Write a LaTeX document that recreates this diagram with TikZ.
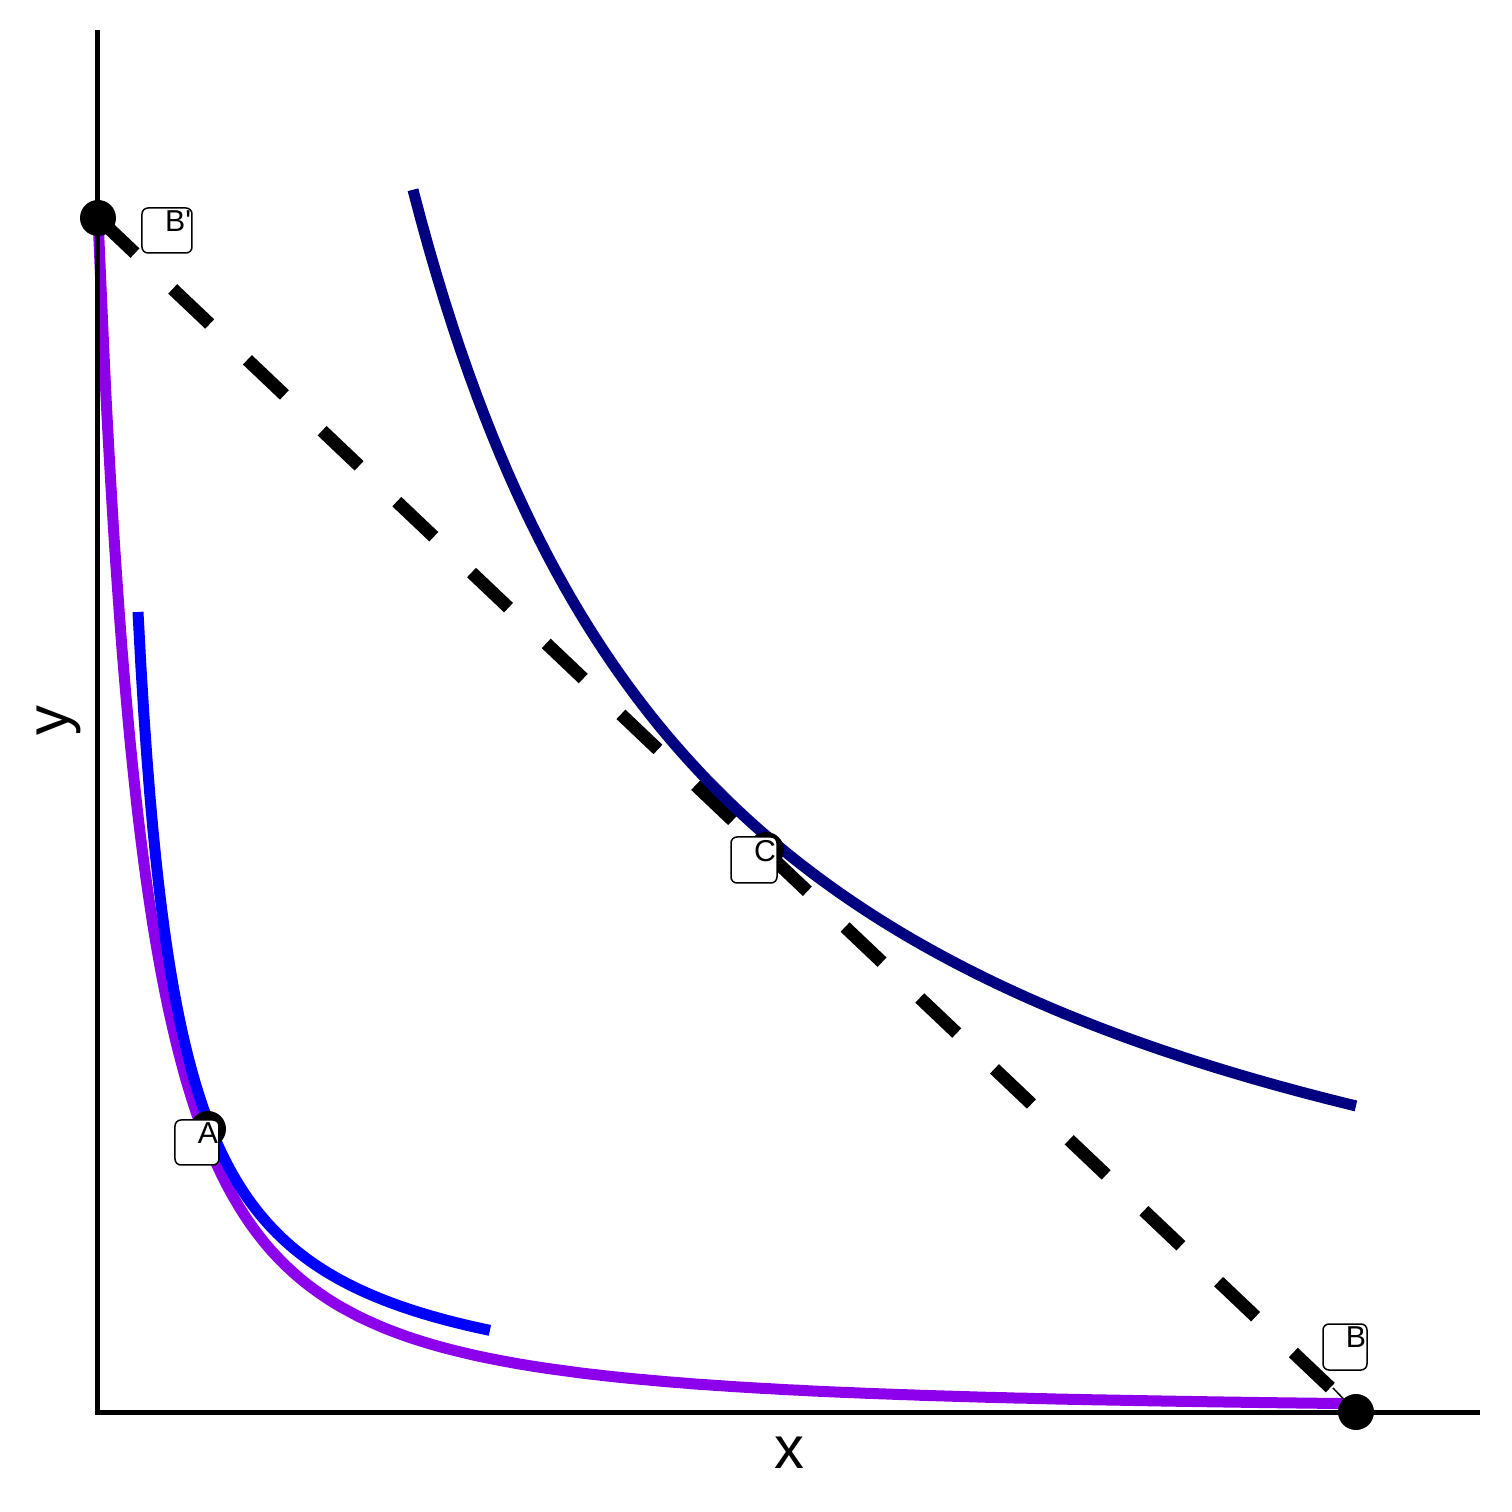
\documentclass[tikz,border=0pt]{standalone}
\usepackage{fontspec}
\setmainfont{Liberation Sans}

\definecolor{icpurple}{RGB}{140,0,235}
\definecolor{icblue}{RGB}{0,0,255}
\definecolor{icnavy}{RGB}{0,0,128}

\tikzset{
  curve/.style={line width=0.11cm},
  budget/.style={line width=0.13cm, dash pattern=on 0.51cm off 0.52cm},
  ptdot/.style={circle, fill=black, inner sep=0pt, minimum size=0.36cm},
  labbox/.style={draw, fill=white, rounded corners=0.06cm, line width=0.015cm, inner sep=0pt},
  labtext/.style={anchor=north east, inner xsep=0.01cm, inner ysep=0.03cm, font=\fontsize{8.6}{10}\selectfont},
  axtitle/.style={anchor=base, inner sep=0pt, font=\fontsize{17}{20}\selectfont},
}

\begin{document}
\begin{tikzpicture}[line cap=butt, line join=round]
    \useasboundingbox (-0.98,-1.00) rectangle (14.14,14.12);

    % Points
    \coordinate (O) at (0,0);
    \coordinate (Bp) at (0,11.94);
    \coordinate (A) at (1.10,2.83);
    \coordinate (C) at (6.68,5.62);
    \coordinate (B) at (12.58,0);

    % Budget line
    \draw[budget] (Bp) -- (B);

    % Indifference curves
    \draw[curve, icpurple, domain=0:12.58, samples=160, smooth]
        plot (\x, {11.94*exp(-1.8*ln((\x+0.85)/0.85))});
    \draw[curve, icblue, domain=0.40:3.92, samples=120] plot (\x, {3.2/\x});
    \draw[curve, icnavy, domain=3.15:12.58, samples=120] plot (\x, {38.5/\x});

    % Axes
    \coordinate (ytop) at (0,13.82);
    \coordinate (xend) at (13.82,0);
    \draw[line width=0.05cm, line join=miter] (ytop) -- (O) -- (xend);
    \node[axtitle] (xlab) at (6.91,-0.56) {x};
    \node[axtitle, rotate=90] (ylab) at (-0.29,6.91) {y};

    % Segment from label B
    \coordinate (bseg) at (12.35,0.24);
    \draw[line width=0.015cm, shorten >=0.17cm] (bseg) -- (B);

    % Dots
    \node[ptdot] (ptBp) at (Bp) {};
    \node[ptdot] (ptA) at (A) {};
    \node[ptdot] (ptC) at (C) {};
    \node[ptdot] (ptB) at (B) {};

    % Labels
    \node[labbox, minimum width=0.50cm, minimum height=0.45cm] (boxBp) at (0.69,11.815) {};
    \node[labtext] (txtBp) at (boxBp.north east) {B\textquotesingle};
    \node[labbox, minimum width=0.44cm, minimum height=0.45cm] (boxA) at (0.99,2.695) {};
    \node[labtext] (txtA) at (boxA.north east) {A};
    \node[labbox, minimum width=0.46cm, minimum height=0.46cm] (boxC) at (6.56,5.52) {};
    \node[labtext] (txtC) at (boxC.north east) {C};
    \node[labbox, minimum width=0.44cm, minimum height=0.46cm] (boxB) at (12.47,0.65) {};
    \node[labtext] (txtB) at (boxB.north east) {B};
\end{tikzpicture}
\end{document}
